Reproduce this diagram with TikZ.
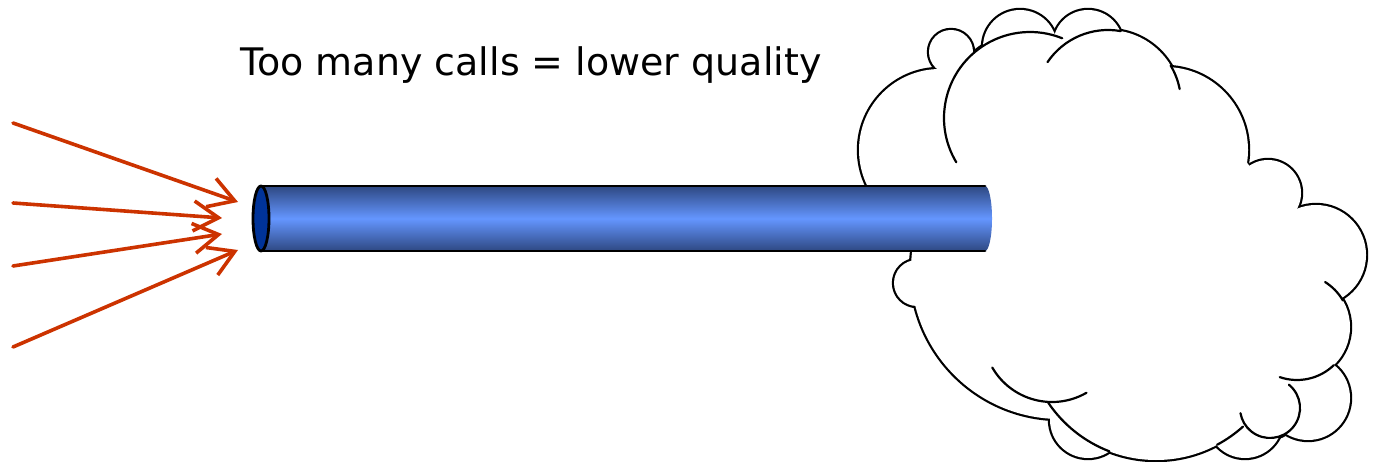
\documentclass[tikz,border=0pt]{standalone}
\usepackage{fontspec}
\setmainfont{DejaVu Sans}
\usetikzlibrary{arrows.meta}
\begin{document}
\begin{tikzpicture}[x=0.1mm, y=-0.1mm, line cap=round, line join=round,
    callarrow/.style={callred, line width=0.36mm, -{Straight Barb[length=2.5mm, width=3mm]}},
    innerarc/.style={line width=0.22mm}]
  \definecolor{callred}{RGB}{204,51,0}
  \definecolor{pipedark}{RGB}{46,72,130}
  \definecolor{pipelight}{RGB}{100,150,255}
  \definecolor{pipeend}{RGB}{0,51,153}
  \useasboundingbox (0,0) rectangle (1382,462);
  % cloud: lobes as x/y/r, outline of the union first
  \def\lobes{951/52/22, 1020/47/37, 1088/45/35, 1108/103/73, 1030/118/86, 940/150/81,
    1165/150/83, 1268/193/33, 1316/255/50, 1297/327/53, 1308/398/42, 1270/408/30,
    1245/420/38, 1156/330/130, 1088/420/38, 1060/270/149, 917/283/23}
  \foreach \cx/\cy/\r in \lobes \draw[line width=0.44mm] (\cx,\cy) circle (\r);
  \foreach \cx/\cy/\r in \lobes \fill[white] (\cx,\cy) circle (\r);
  \fill[white] (960,100) -- (1100,60) -- (1200,100) -- (1260,180) -- (1300,240) -- (1320,300)
    -- (1290,390) -- (1240,420) -- (1100,420) -- (960,350) -- (930,250) -- cycle;
  % inner arcs
  \draw[innerarc] (1108,103) ++(-146:73) arc[start angle=-146, end angle=-80, radius=73];
  \draw[innerarc] (1108,103) ++(-31:73) arc[start angle=-31, end angle=-11, radius=73];
  \draw[innerarc] (1030,118) ++(-211:86) arc[start angle=-211, end angle=-68, radius=86];
  \draw[innerarc] (1052,333) ++(60:69) arc[start angle=60, end angle=150, radius=69];
  \draw[innerarc] (1156,330) ++(48:130) arc[start angle=48, end angle=62, radius=130];
  \draw[innerarc] (1156,330) ++(111:130) arc[start angle=111, end angle=146, radius=130];
  \draw[innerarc] (1270,408) ++(-51:30) arc[start angle=-51, end angle=170, radius=30];
  \draw[innerarc] (1297,327) ++(-58:53) arc[start angle=-58, end angle=-30, radius=53];
  \draw[innerarc] (1297,327) ++(46:53) arc[start angle=46, end angle=109, radius=53];
  % pipe
  \shade[top color=pipedark, bottom color=pipedark, middle color=pipelight]
    (261,186) -- (985,186) arc[start angle=-90, end angle=90, x radius=7, y radius=32.5]
    -- (261,251) -- cycle;
  \draw[line width=0.28mm] (261,186) -- (985,186);
  \draw[line width=0.28mm] (261,251) -- (985,251);
  \draw[line width=0.28mm, fill=pipeend] (261,218.5) ellipse[x radius=8, y radius=32.5];
  % calls
  \coordinate (s1) at (13,123);
  \coordinate (s2) at (13,203);
  \coordinate (s3) at (13,266);
  \coordinate (s4) at (13,347);
  \coordinate (t1) at (238,202);
  \coordinate (t2) at (222,218);
  \coordinate (t3) at (222,234);
  \coordinate (t4) at (238,250);
  \draw[callarrow] (s1) -- (t1);
  \draw[callarrow] (s2) -- (t2);
  \draw[callarrow] (s3) -- (t3);
  \draw[callarrow] (s4) -- (t4);
  \node[anchor=base west, inner sep=0pt, font=\fontsize{10.8pt}{13pt}\selectfont] (title)
    at (240,76) {Too many calls = lower quality};
\end{tikzpicture}
\end{document}
